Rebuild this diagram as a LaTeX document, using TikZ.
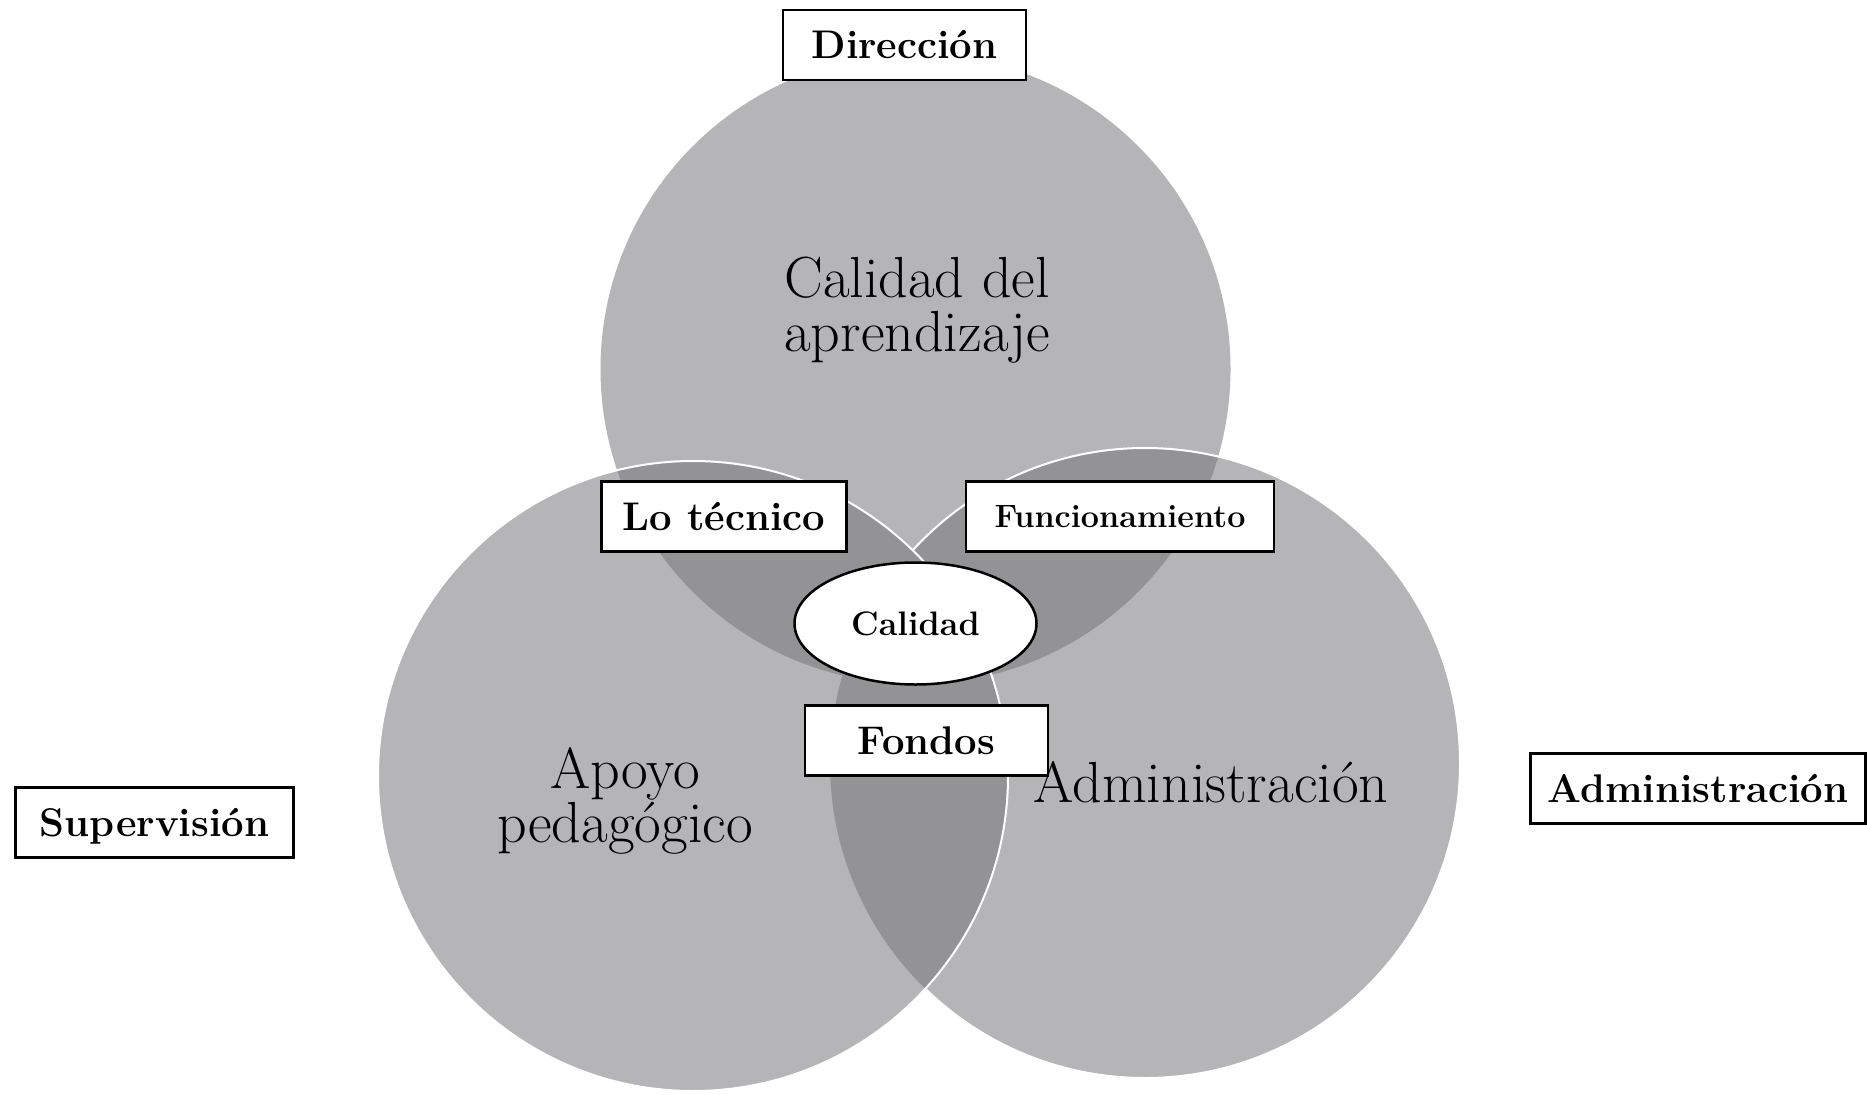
\documentclass[tikz,border=0pt]{standalone}
\usetikzlibrary{shapes.geometric}
\definecolor{lightg}{RGB}{181,181,183}
\definecolor{darkg}{RGB}{147,147,149}
\begin{document}
\begin{tikzpicture}[x=1pt,y=-1pt,
  lbl/.style={draw=black, line width=2.5pt, fill=white, inner sep=0pt,
    font=\fontsize{40}{42}\selectfont\bfseries, minimum height=70pt,
    text height=27.4pt, text depth=0pt},
  smalllbl/.style={lbl, font=\fontsize{32.3}{34}\selectfont\bfseries, text height=22.2pt},
  big/.style={font=\fontsize{58}{54}\selectfont, align=center, inner sep=0pt},
  ring/.style={white, line width=2pt}]
\useasboundingbox[fill=white] (0,0) rectangle (1867,1094);
\coordinate (ct) at (915.5,369);
\coordinate (cl) at (693,776);
\coordinate (cr) at (1145,763);
% top circle
\fill[lightg] (ct) circle[radius=315pt];
% right circle
\fill[lightg] (cr) circle[radius=315pt];
\begin{scope}
  \clip (ct) circle[radius=315pt];
  \fill[darkg] (cr) circle[radius=315pt];
\end{scope}
\draw[ring] (cr) circle[radius=315pt];
% left circle
\fill[lightg] (cl) circle[radius=315pt];
\begin{scope}
  \clip (cl) circle[radius=315pt];
  \fill[darkg] (ct) circle[radius=315pt];
  \fill[darkg] (cr) circle[radius=315pt];
\end{scope}
\draw[ring] (cl) circle[radius=315pt];
% big texts
\node[big] (tcal) at (917,310) {Calidad del\\aprendizaje};
\node[big] (tapo) at (625,801) {Apoyo\\pedag\'ogico};
\node[big, anchor=base] (tadm) at (1211,802) {Administraci\'on};
% labels
\node[lbl, minimum width=243pt] (dir) at (904.5,45) {Direcci\'on};
\node[lbl, minimum width=245pt] (tec) at (724,516.7) {Lo t\'ecnico};
\node[smalllbl, minimum width=308pt] (fun) at (1120,516.7) {Funcionamiento};
\node[draw=black, line width=2.5pt, fill=white, ellipse, inner sep=0pt,
  minimum width=242pt, minimum height=122pt,
  font=\fontsize{34}{36}\selectfont\bfseries, text height=23.3pt, text depth=0pt]
  (cal) at (915.5,623.5) {Calidad};
\node[lbl, minimum width=243pt] (fon) at (926.5,740.5) {Fondos};
\node[lbl, minimum width=278pt] (sup) at (154.5,822.5) {Supervisi\'on};
\node[lbl, minimum width=335pt] (adm) at (1698,788.5) {Administraci\'on};
\end{tikzpicture}
\end{document}
